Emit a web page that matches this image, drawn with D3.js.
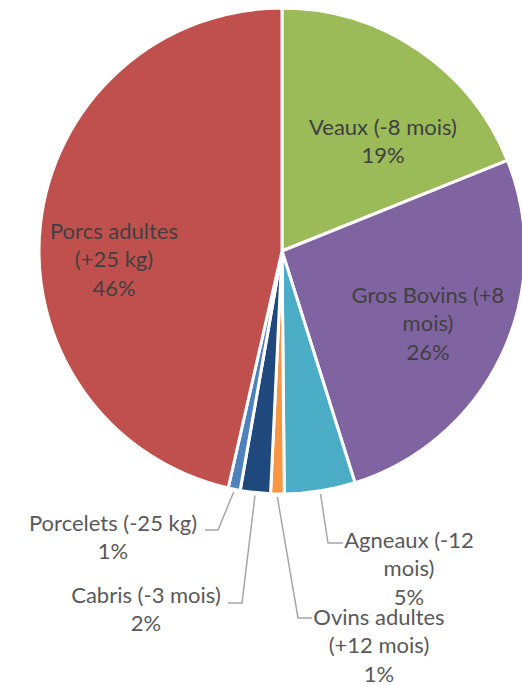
<!DOCTYPE html>
<html><head><meta charset="utf-8">
<script src="https://cdn.jsdelivr.net/npm/d3@7"></script>
<style>
body{margin:0;background:#fff}
svg{display:block}
</style>
</head><body>
<svg id="c" width="522" height="685"></svg>
<script>
// ---- data ----
const categories = ["Veaux (-8 mois)", "Gros Bovins (+8 mois)", "Agneaux (-12 mois)", "Ovins adultes (+12 mois)", "Cabris (-3 mois)", "Porcelets (-25 kg)", "Porcs adultes (+25 kg)"];
const values = [18.9, 26.2, 4.7, 0.9, 2.0, 0.8, 46.4];
const colors = ["#9BBB59", "#8064A2", "#4BACC6", "#F79646", "#1F497D", "#4F81BD", "#C0504D"];
const labelLines = [["Veaux (-8 mois)"], ["Gros Bovins (+8", "mois)"], ["Agneaux (-12", "mois)"], ["Ovins adultes", "(+12 mois)"], ["Cabris (-3 mois)"], ["Porcelets (-25 kg)"], ["Porcs adultes", "(+25 kg)"]];

// ---- layout (label placement) ----
const cx = 282, cy = 251, R = 243;
const lineH = 28.5;
const labelLayout = [
  {x: 383, y: 127, leader: null},
  {x: 428, y: 295, leader: null},
  {x: 409, y: 540, leader: [[328, 543], [343, 543]]},
  {x: 379, y: 617, leader: [[298, 618], [312, 618]]},
  {x: 146, y: 595, leader: [[242, 603], [228, 603]]},
  {x: 113, y: 523, leader: [[218, 530], [205, 530]]},
  {x: 114, y: 231, leader: null}
];

const svg = d3.select("#c");
const total = d3.sum(values);
const data = categories.map((c, i) => ({name: c, value: values[i], color: colors[i], lines: labelLines[i], lay: labelLayout[i]}));

const pie = d3.pie().sort(null).value(d => d.value).startAngle(0).endAngle(2 * Math.PI);
const arc = d3.arc().innerRadius(0).outerRadius(R);
const arcs = pie(data);

const g = svg.append("g").attr("transform", `translate(${cx},${cy})`);
g.selectAll("path.slice").data(arcs).join("path")
  .attr("class", "slice")
  .attr("d", arc)
  .attr("fill", d => d.data.color)
  .attr("stroke", "#fff")
  .attr("stroke-width", 3)
  .attr("stroke-linejoin", "round");

// leader lines
const line = d3.line();
arcs.forEach(a => {
  const L = a.data.lay.leader;
  if (!L) return;
  const mid = (a.startAngle + a.endAngle) / 2;
  const r0 = R + 3;
  const p0 = [cx + Math.sin(mid) * r0, cy - Math.cos(mid) * r0];
  svg.append("path")
    .attr("d", line([p0, ...L]))
    .attr("fill", "none")
    .attr("stroke", "#A6A6A6")
    .attr("stroke-width", 1.5);
});

// labels
arcs.forEach(a => {
  const d = a.data;
  const pct = Math.round(d.value / total * 100) + "%";
  const lines = d.lines.concat([pct]);
  const t = svg.append("text")
    .attr("text-anchor", "middle")
    .attr("font-family", "Lato, 'Open Sans', sans-serif")
    .attr("font-size", 22)
    .attr("fill", d.lay.leader ? "#595959" : "#404040");
  lines.forEach((s, i) => {
    t.append("tspan")
      .attr("x", d.lay.x)
      .attr("y", d.lay.y + i * lineH)
      .attr("dy", "0.35em")
      .text(s);
  });
});
</script>
</body></html>
